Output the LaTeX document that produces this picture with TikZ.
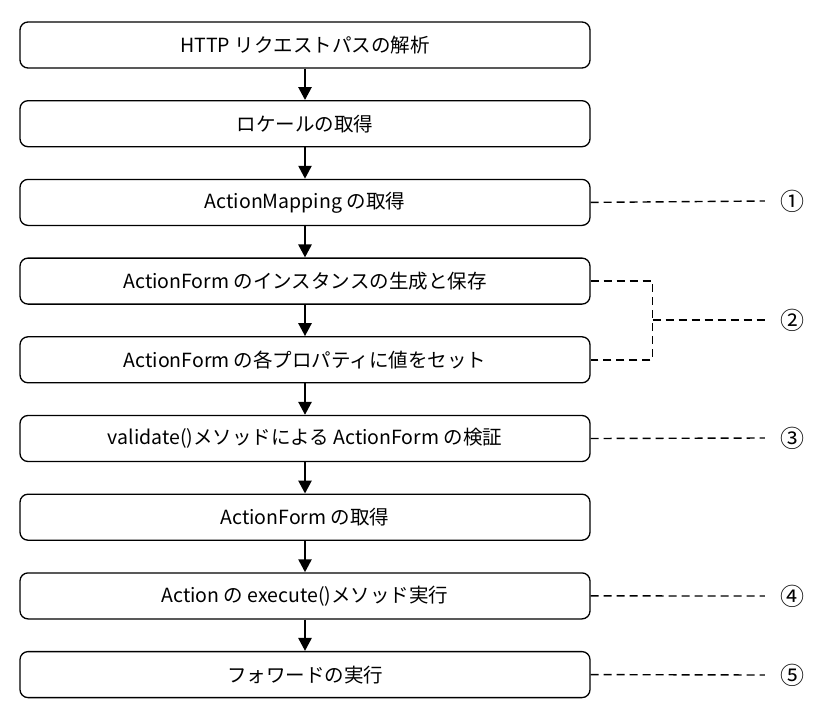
\documentclass[tikz,border=0pt]{standalone}
\usepackage{fontspec}
\setmainfont{Noto Sans CJK JP}
\usetikzlibrary{positioning,arrows.meta}
\begin{document}
\begin{tikzpicture}[x=1pt, y=1pt, node distance = {78.7pt}, font=\fontsize{19.5pt}{22pt}\selectfont,
      main/.style = {draw, line width=1.3pt, rounded corners=8pt, minimum width=570pt, minimum height=46pt, inner sep=0pt},
      flow/.style = {-{Triangle[length=13pt, width=13pt]}, line width=2.6pt},
      link/.style = {line width=1.4pt, dash pattern=on 8pt off 5pt},
      num/.style = {inner sep=0pt, minimum width=54pt, font=\fontsize{24pt}{26pt}\selectfont}]
                  \useasboundingbox (0,0) rectangle (830,-718);
                  \node[main](1) at (305,-45) {HTTP リクエストパスの解析};
                  \node[main](2)[below of=1] {ロケールの取得};
                  \node[main](3)[below of=2] {ActionMapping の取得};
                  \node[main](4)[below of=3] {ActionForm のインスタンスの生成と保存};
                  \node[main](5)[below of=4] {ActionForm の各プロパティに値をセット};
                  \node[main](6)[below of=5] {validate()メソッドによる ActionForm の検証};
                  \node[main](7)[below of=6] {ActionForm の取得};
                  \node[main](8)[below of=7] {Action の execute()メソッド実行};
                  \node[main](9)[below of=8] {フォワードの実行};
                  % step numbers on the right
                  \node[num](n1) at (792,-201) {①};
                  \node[num](n2) at (792,-320) {②};
                  \node[num](n3) at (792,-438) {③};
                  \node[num](n4) at (792,-596) {④};
                  \node[num](n5) at (792,-675) {⑤};
                  \draw[flow] (1) -- (2);
                  \draw[flow] (2) -- (3);
                  \draw[flow] (3) -- (4);
                  \draw[flow] (4) -- (5);
                  \draw[flow] (5) -- (6);
                  \draw[flow] (6) -- (7);
                  \draw[flow] (7) -- (8);
                  \draw[flow] (8) -- (9);
                  \draw[link] (3.east) -- (n1.west);
                  \coordinate (t) at ([xshift=62pt]4.east);
                  \coordinate (u) at ([xshift=62pt]5.east);
                  \draw[link] (4.east) -- (t) -- (u) -- (5.east);
                  \draw[link] (t|-n2) -- (n2.west);
                  \draw[link] (6.east) -- (n3.west);
                  \draw[link] (8.east) -- (n4.west);
                  \draw[link] (9.east) -- (n5.west);
\end{tikzpicture}
\end{document}
